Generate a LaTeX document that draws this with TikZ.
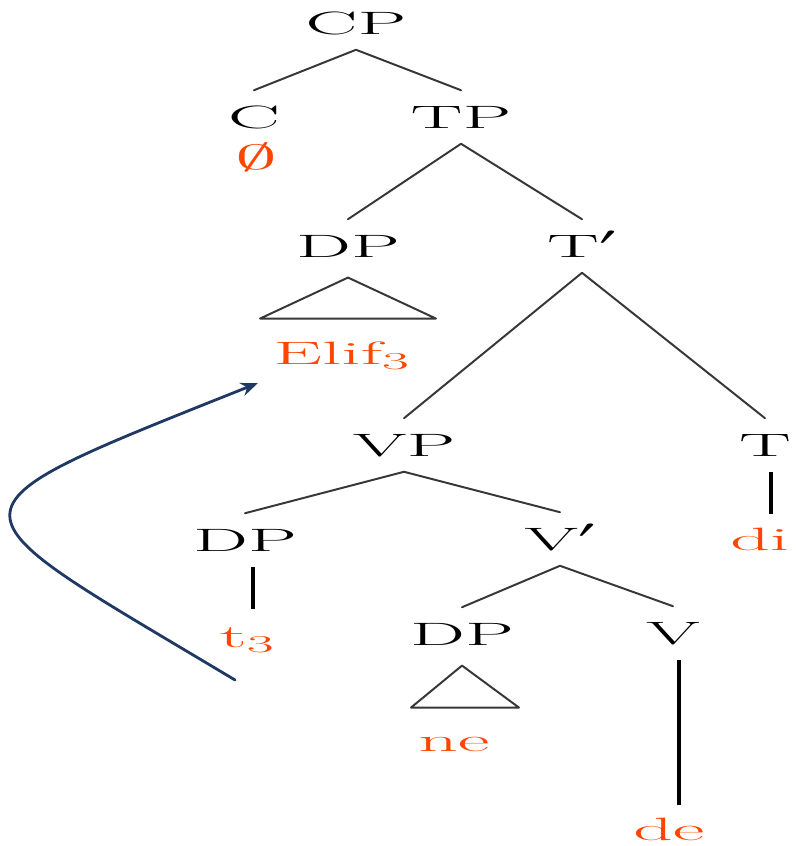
\documentclass[tikz,border=0pt]{standalone}
\usepackage{graphicx}
\usepackage{amssymb}
\usetikzlibrary{arrows.meta}
\definecolor{wordred}{RGB}{255,69,0}
\definecolor{movblue}{RGB}{31,56,100}
\definecolor{branchgray}{RGB}{55,55,55}
\newcommand{\stretched}[1]{\scalebox{2.4}[1]{#1}}
\tikzset{
  cat/.style={inner xsep=0pt, inner ysep=11pt, text height=15.7pt, text depth=0pt},
  word/.style={text=wordred, inner sep=0pt, anchor=base west},
  branch/.style={draw=branchgray, line width=1.4pt},
  stem/.style={draw=black, line width=3pt, line cap=butt},
}
\begin{document}
\begin{tikzpicture}[x=0.25mm, y=-0.25mm, >={Stealth[length=4.3mm,width=3.4mm]}, line join=round, line cap=round, font=\fontsize{23}{23}\selectfont]
\useasboundingbox (0,0) rectangle (795,846);
% categories
\node (cp) at (356,23) [cat] {\stretched{CP}};
\node (c) at (254,117) [cat] {\stretched{C}};
\node (tp) at (461,117) [cat] {\stretched{TP}};
\node (dpa) at (348,246) [cat] {\stretched{DP}};
\node (tbar) at (582,246) [cat] {\stretched{T$'$}};
\node (vp) at (404,445) [cat] {\stretched{VP}};
\node (t) at (765,445) [cat] {\stretched{T}};
\node (dpb) at (245,540) [cat] {\stretched{DP}};
\node (vbar) at (560,539) [cat] {\stretched{V$'$}};
\node (dpc) at (462,634) [cat] {\stretched{DP}};
\node (v) at (673,633) [cat] {\stretched{V}};
% words
\node (zero) at (256,157) [text=wordred, inner sep=0pt] {\stretched{$\emptyset$}};
\node (elif) at (273,364) [word] {\stretched{Elif$_3$}};
\node (trace) at (219,647) [word] {\stretched{t$_3$}};
\node (di) at (730,550) [word] {\stretched{di}};
\node (ne) at (418,751) [word] {\stretched{ne}};
\node (de) at (633,840) [word] {\stretched{de}};
% branches
\draw[branch] (c.north)--(cp.south)--(tp.north);
\draw[branch] (dpa.north)--(tp.south)--(tbar.north);
\draw[branch] (vp.north)--(tbar.south)--(t.north);
\draw[branch] (dpb.north)--(vp.south)--(vbar.north);
\draw[branch] (dpc.north)--(vbar.south)--(v.north);
% triangles
\draw[branch] ([yshift=-1.2mm]dpa.south) -- ++(-88,41) -- ++(176,0) -- cycle;
\draw[branch] ([yshift=-1.2mm]dpc.south) -- ++(-51,42) -- ++(108,0) -- cycle;
% stems
\draw[stem] ([xshift=1.5mm]t.south) -- ([xshift=1.5mm,yshift=3.2mm]t.south |- di.north);
\draw[stem] ([xshift=2mm]dpb.south) -- ([xshift=2mm,yshift=4.5mm]dpb.south |- trace.north);
\draw[stem] ([xshift=1.5mm]v.south) -- ([xshift=1.5mm,yshift=3mm]v.south |- de.north);
% movement
\coordinate (from) at (235,680);
\coordinate (to) at (258,383);
\draw[->, movblue, line width=2pt] (from) .. controls (-60,503) and (-75,516) .. (to);
\end{tikzpicture}
\end{document}
